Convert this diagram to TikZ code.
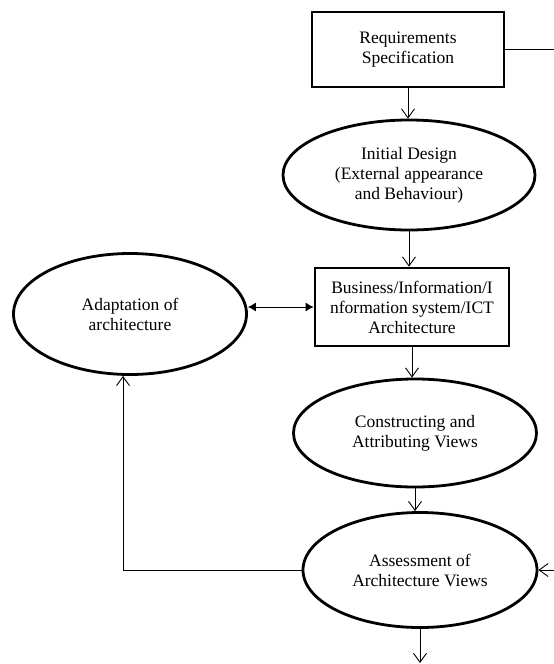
\documentclass[tikz,border=0pt]{standalone}
\usepackage{fontspec}
\setmainfont{Liberation Serif}
\usetikzlibrary{shapes.geometric,arrows.meta}

\begin{document}
\begin{tikzpicture}[x=1pt,y=-1pt,
  every node/.style={align=center,font=\fontsize{17.5}{20}\selectfont},
  boxnode/.style={draw,rectangle,line width=2.8pt},
  ovalnode/.style={draw,ellipse,line width=2.8pt,inner sep=0pt},
  arr/.style={line width=0.9pt,-{Straight Barb[length=9pt,width=13pt]}},
  dblarr/.style={line width=0.9pt,{Latex[length=8pt,width=9pt]}-{Latex[length=8pt,width=9pt]}}]
\useasboundingbox (0,0) rectangle (554,664);
\node[boxnode,minimum width=192,minimum height=75] (req) at (408,49.5) {Requirements\\Specification};
\node[ovalnode,minimum width=252,minimum height=110] (init) at (409,175) {Initial Design\\(External appearance\\and Behaviour)};
\node[boxnode,minimum width=194,minimum height=78] (arch) at (412,307) {Business/Information/I\\nformation system/ICT\\Architecture};
\node[ovalnode,minimum width=233,minimum height=121] (adapt) at (130,314) {Adaptation of\\architecture};
\node[ovalnode,minimum width=243,minimum height=108] (cons) at (415,433) {Constructing and\\Attributing Views};
\node[ovalnode,minimum width=234,minimum height=115] (assess) at (420,570) {Assessment of\\Architecture Views};
\coordinate (reqout) at (554,49.5);
\coordinate (assin) at (554,570);
\coordinate (fb) at (123,570);
\coordinate (bottom) at (420,663);
\draw[line width=0.9pt] (req.east) -- (reqout);
\draw[arr] (req.south) -- (req.south |- init.north);
\draw[arr] (init.south) -- (init.south |- arch.north);
\draw[arr] (arch.south) -- (arch.south |- cons.north);
\draw[arr] (cons.south) -- (cons.south |- assess.north);
\draw[dblarr] (adapt.east |- arch.west) -- (arch.west);
\draw[arr] (assess.west) -- (fb) -- (fb |- adapt.south);
\draw[arr] (assin) -- (assess.east);
\draw[arr] (assess.south) -- (assess.south |- bottom);
\end{tikzpicture}
\end{document}
